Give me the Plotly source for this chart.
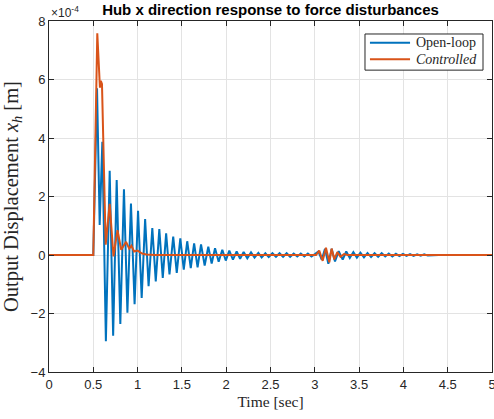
import plotly.graph_objects as go

# Open-loop response: times of successive extremes [s] and values [x 1e-4 m]
t_open = [0.0, 0.5, 0.542, 0.572, 0.602, 0.642, 0.685, 0.724, 0.764, 0.805,
          0.846, 0.885, 0.925, 0.966, 1.005, 1.046, 1.085, 1.124, 1.166, 1.205,
          1.245, 1.284, 1.322, 1.360, 1.402, 1.442, 1.482, 1.521, 1.560, 1.600,
          1.638, 1.677, 1.716, 1.757, 1.798, 1.836, 1.874, 1.915, 1.956, 1.995,
          2.035, 2.076, 2.118, 2.157, 2.197, 2.238, 2.280, 2.320, 2.363, 2.400,
          2.442, 2.480, 2.522, 2.562, 2.602, 2.642, 2.682, 2.722, 2.762, 2.802,
          2.842, 2.882, 2.922, 2.962, 3.005, 3.040, 3.078, 3.115, 3.153, 3.190,
          3.228, 3.270, 3.315, 3.355, 3.395, 3.435, 3.475, 3.515, 3.555, 3.595,
          3.635, 3.675, 3.715, 3.755, 3.795, 3.835, 3.875, 3.915, 3.955, 3.995,
          4.035, 4.075, 4.115, 4.155, 4.195, 4.235, 4.275, 4.400, 5.0]
x_open = [0.0, 0.0, 5.70, 1.03, 3.87, -2.95, 2.88, -2.76, 2.56, -2.36,
          2.25, -1.97, 1.76, -1.68, 1.51, -1.47, 1.23, -1.07, 0.92, -0.90,
          0.89, -0.78, 0.74, -0.66, 0.63, -0.61, 0.57, -0.50, 0.47, -0.45,
          0.40, -0.42, 0.36, -0.36, 0.28, -0.29, 0.23, -0.23, 0.18, -0.19,
          0.15, -0.16, 0.12, -0.13, 0.10, -0.11, 0.09, -0.09, 0.07, -0.08,
          0.06, -0.07, 0.06, -0.06, 0.06, -0.06, 0.06, -0.06, 0.05, -0.05,
          0.05, -0.05, 0.05, -0.05, 0.04, 0.12, -0.16, 0.21, -0.30, 0.21,
          -0.22, 0.13, -0.16, 0.12, -0.10, 0.10, -0.09, 0.08, -0.08, 0.07,
          -0.07, 0.06, -0.06, 0.06, -0.05, 0.05, -0.05, 0.04, -0.04, 0.04,
          -0.03, 0.03, -0.03, 0.02, -0.02, 0.02, -0.02, 0.0, 0.0]

# Controlled response [s], [x 1e-4 m]
t_ctrl = [0.0, 0.5, 0.545, 0.575, 0.585, 0.598, 0.640, 0.685, 0.728, 0.773,
          0.815, 0.870, 0.905, 0.930, 0.960, 1.000, 1.050, 1.100, 1.200,
          3.014, 3.050, 3.089, 3.126, 3.164, 3.190, 3.220, 3.254, 3.290,
          3.330, 3.370, 5.0]
x_ctrl = [0.0, 0.0, 7.58, 5.72, 5.95, 5.85, 0.35, 1.75, -0.05, 0.85,
          0.18, 0.45, 0.22, 0.32, 0.12, 0.15, 0.05, 0.02, 0.0,
          0.0, 0.15, -0.20, 0.25, -0.25, 0.22, -0.15, 0.10, -0.06,
          0.03, 0.0, 0.0]

x_ticks = [0, 0.5, 1, 1.5, 2, 2.5, 3, 3.5, 4, 4.5, 5]
x_tick_labels = ["0", "0.5", "1", "1.5", "2", "2.5", "3", "3.5", "4", "4.5", "5"]
y_ticks = [-4, -2, 0, 2, 4, 6, 8]
series_names = ["Open-loop", "<i>Controlled</i>"]
series_colors = ["#0072BD", "#D95319"]

AX = "#262626"
GRID = "#e3e3e3"
SANS = "Liberation Sans, Arial"
SERIF = "Liberation Serif, Times New Roman"

fig = go.Figure()
fig.add_trace(go.Scatter(x=t_open, y=x_open, mode="lines", name=series_names[0],
                         showlegend=False,
                         line=dict(color=series_colors[0], width=2)))
fig.add_trace(go.Scatter(x=t_ctrl, y=x_ctrl, mode="lines", name=series_names[1],
                         showlegend=False,
                         line=dict(color=series_colors[1], width=2)))

fig.update_layout(
    width=494, height=419,
    margin=dict(l=49, r=2, t=21, b=47, autoexpand=False),
    paper_bgcolor="white", plot_bgcolor="white",
    font=dict(family=SANS, size=13, color=AX),
    title=dict(text="<b>Hub x direction response to force disturbances</b>",
               x=0.5, xref="paper", xanchor="center",
               y=1 - 10 / 419, yref="container", yanchor="middle",
               font=dict(family=SANS, size=15, color="black")),
    showlegend=False,
    xaxis=dict(range=[0, 5], tickvals=x_ticks, ticktext=x_tick_labels,
               automargin=False, ticklabeloverflow="allow",
               showgrid=True, gridcolor=GRID, gridwidth=1,
               showline=True, linecolor=AX, linewidth=1, mirror="ticks",
               ticks="inside", ticklen=5, tickcolor=AX, zeroline=False,
               title=dict(text="Time [sec]", standoff=5,
                          font=dict(family=SERIF, size=15.5, color=AX))),
    yaxis=dict(range=[-4, 8], tickvals=y_ticks,
               automargin=False,
               showgrid=True, gridcolor=GRID, gridwidth=1,
               showline=True, linecolor=AX, linewidth=1, mirror="ticks",
               ticks="inside", ticklen=5, tickcolor=AX, zeroline=False,
               title=dict(text="Output Displacement <i>x<sub>h</sub></i> [m]", standoff=8,
                          font=dict(family=SERIF, size=20.5, color=AX))),
)

# Exponent label
fig.add_annotation(text="\u00d710<sup>-4</sup>", xref="paper", yref="paper",
                   x=0, y=1, xanchor="left", yanchor="bottom", yshift=-1,
                   showarrow=False,
                   font=dict(family=SANS, size=12, color=AX))

# Legend box (compact, MATLAB style)
lg_x0, lg_x1, lg_y0, lg_y1 = 0.7133, 0.9797, 0.860, 0.963
row_y = [0.938, 0.891]
fig.add_shape(type="rect", xref="paper", yref="paper",
              x0=lg_x0, x1=lg_x1, y0=lg_y0, y1=lg_y1,
              line=dict(color=AX, width=1), fillcolor="white", layer="above")
for name, color, yy in zip(series_names, series_colors, row_y):
    fig.add_shape(type="line", xref="paper", yref="paper",
                  x0=0.7245, x1=0.8150, y0=yy, y1=yy,
                  line=dict(color=color, width=2), layer="above")
    fig.add_annotation(text=name, xref="paper", yref="paper",
                       x=0.8235, y=yy, xanchor="left", yanchor="middle",
                       showarrow=False,
                       font=dict(family=SERIF, size=14, color=AX))

fig.write_html("out.html", config={"displayModeBar": False},
               post_script="document.body.style.margin='0';document.body.style.overflow='hidden';")
